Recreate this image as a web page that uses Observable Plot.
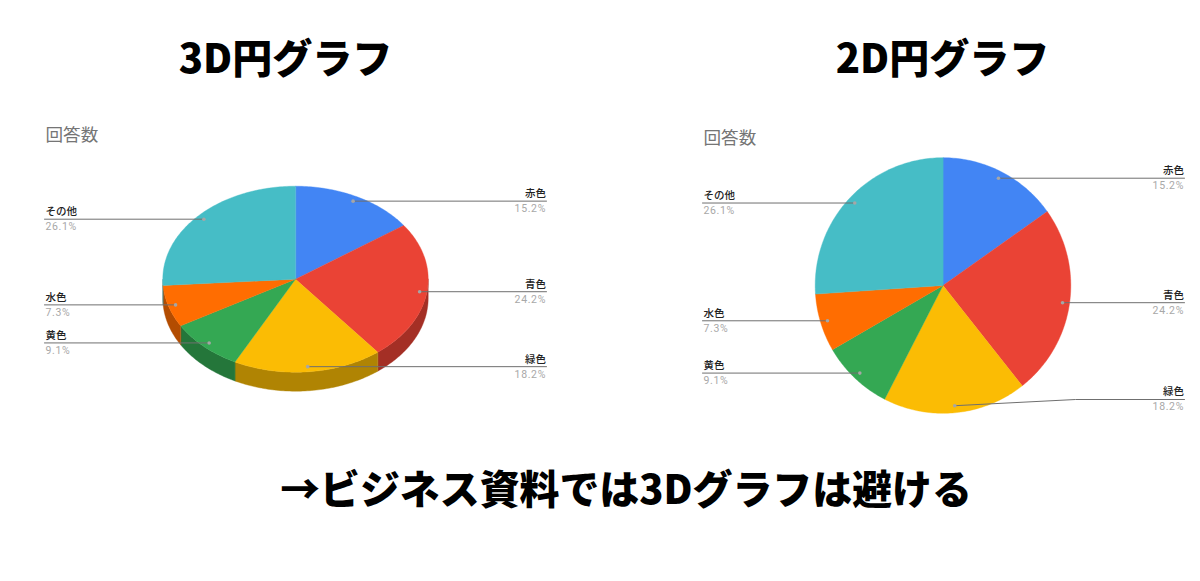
<!DOCTYPE html>
<html lang="ja">
<head>
<meta charset="utf-8">
<script src="https://cdn.jsdelivr.net/npm/d3@7"></script>
<script src="https://cdn.jsdelivr.net/npm/@observablehq/plot@0.6"></script>
<style>
html,body{margin:0;padding:0;background:#fff}
svg{display:block}
</style>
</head>
<body>
<div id="chart"></div>
<script>
const categories = ["赤色", "青色", "緑色", "黄色", "水色", "その他"];
const shares = [15.2, 24.2, 18.2, 9.1, 7.3, 26.1];
const shareLabels = ["15.2%", "24.2%", "18.2%", "9.1%", "7.3%", "26.1%"];
const sliceColors = ["#4285F4", "#EA4335", "#FBBC04", "#34A853", "#FF6D01", "#46BDC6"];
const chartTitle = "回答数";
const headings = ["3D円グラフ", "2D円グラフ"];
const conclusion = "→ビジネス資料では3Dグラフは避ける";

// Layout of the two pies, in the plot's own x/y units
const panels = [
  {id: "3d", cx: 295, cy: 278.7, rx: 132.7, ry: 93, depth: 19, left: 44, right: 546, titleX: 45, titleY: 135, headX: 285},
  {id: "2d", cx: 942.5, cy: 285, rx: 127.8, ry: 127.8, depth: 0, left: 702, right: 1184, titleX: 703, titleY: 138, headX: 942,
   elbow: {"緑色": {x: 1075, y: 399}}}
];

const pie = d3.pie().sort(null).value(d => d)(shares);
const sliceAngles = pie.map((p, i) => ({i, a0: p.startAngle, a1: p.endAngle, mid: (p.startAngle + p.endAngle) / 2}));
const arcPoint = (P, a, k = 1, dy = 0) => ({x: P.cx + k * P.rx * Math.sin(a), y: P.cy - k * P.ry * Math.cos(a) + dy});
const arcRange = (a0, a1) => { const n = Math.max(2, Math.ceil((a1 - a0) * 60)); return d3.range(n + 1).map(j => a0 + (a1 - a0) * j / n); };
const shade = (c, f) => { const r = d3.rgb(c); return d3.rgb(r.r * f, r.g * f, r.b * f).formatHex(); };

const topFaces = [], sideFaces = [], leaders = [], dots = [], names = [], pcts = [];
for (const P of panels) {
  for (const s of sliceAngles) {
    const color = sliceColors[s.i], key = `${P.id}-${s.i}`;
    topFaces.push({key, color, x: P.cx, y: P.cy});
    for (const a of arcRange(s.a0, s.a1)) topFaces.push({key, color, ...arcPoint(P, a)});
    // Extruded rim: only the part of the slice facing the viewer
    const b0 = Math.max(s.a0, Math.PI / 2), b1 = Math.min(s.a1, 3 * Math.PI / 2);
    if (P.depth > 0 && b1 > b0) {
      const dark = shade(color, 0.7), range = arcRange(b0, b1);
      for (const a of range) sideFaces.push({key, color: dark, ...arcPoint(P, a)});
      for (const a of range.slice().reverse()) sideFaces.push({key, color: dark, ...arcPoint(P, a, 1, P.depth)});
    }
    // Leader: starts on the slice's middle angle and runs out to the margin
    const d = arcPoint(P, s.mid, 0.945);
    const onRight = s.mid < Math.PI;
    const edge = onRight ? P.right : P.left;
    const elbow = P.elbow && P.elbow[categories[s.i]];
    const labelY = elbow ? elbow.y : d.y;
    dots.push(d);
    leaders.push({key, ...d});
    if (elbow) leaders.push({key, ...elbow});
    leaders.push({key, x: edge, y: labelY});
    const anchor = onRight ? "end" : "start";
    const tx = onRight ? edge - 0.5 : edge + 1;
    names.push({x: tx, y: labelY - 7.5, text: categories[s.i], anchor});
    pcts.push({x: tx, y: labelY + 7.5, text: shareLabels[s.i], anchor});
  }
}

const jp = "'Noto Sans CJK JP','Noto Sans',sans-serif";
const textMark = (rows, o) => Plot.text(rows, {x: "x", y: "y", text: "text", lineAnchor: "middle", fontFamily: jp, ...o});
const spaced = (index, scales, values, dims, context, next) => {
  const g = next(index, scales, values, dims, context);
  g.style.letterSpacing = "0.65px";
  return g;
};

const plot = Plot.plot({
  width: 1200, height: 581,
  margin: 0,
  style: {background: "#fff"},
  x: {domain: [0, 1200], range: [0, 1200], axis: null},
  y: {domain: [0, 581], range: [0, 581], axis: null},
  color: {type: "identity"},
  marks: [
    Plot.line(sideFaces, {x: "x", y: "y", z: "key", fill: "color", stroke: "color", strokeWidth: 0.4, curve: "linear-closed"}),
    Plot.line(topFaces, {x: "x", y: "y", z: "key", fill: "color", stroke: "color", strokeWidth: 0.4, curve: "linear-closed"}),
    Plot.line(leaders, {x: "x", y: "y", z: "key", stroke: "#6f6f6f", strokeWidth: 1, curve: "linear"}),
    Plot.dot(dots, {x: "x", y: "y", r: 1.8, fill: "#a6a6a6"}),
    textMark(names.filter(d => d.anchor === "end"), {textAnchor: "end", fontSize: 10.5, fontWeight: 500, fill: "#222"}),
    textMark(names.filter(d => d.anchor === "start"), {textAnchor: "start", fontSize: 10.5, fontWeight: 500, fill: "#222"}),
    textMark(pcts.filter(d => d.anchor === "end"), {textAnchor: "end", fontSize: 10.5, fill: "#a8a8a8", fontFamily: "Roboto,sans-serif", render: spaced}),
    textMark(pcts.filter(d => d.anchor === "start"), {textAnchor: "start", fontSize: 10.5, fill: "#a8a8a8", fontFamily: "Roboto,sans-serif", render: spaced}),
    textMark(panels.map(P => ({x: P.titleX, y: P.titleY, text: chartTitle})), {textAnchor: "start", fontSize: 17.6, fill: "#757575"}),
    textMark(panels.map((P, i) => ({x: P.headX, y: 60, text: headings[i]})), {textAnchor: "middle", fontSize: 40, fontWeight: 900, fill: "#000"}),
    textMark([{x: 625.5, y: 491, text: conclusion}], {textAnchor: "middle", fontSize: 39.9, fontWeight: 900, fill: "#000"})
  ]
});
document.getElementById("chart").appendChild(plot);
</script>
</body>
</html>
